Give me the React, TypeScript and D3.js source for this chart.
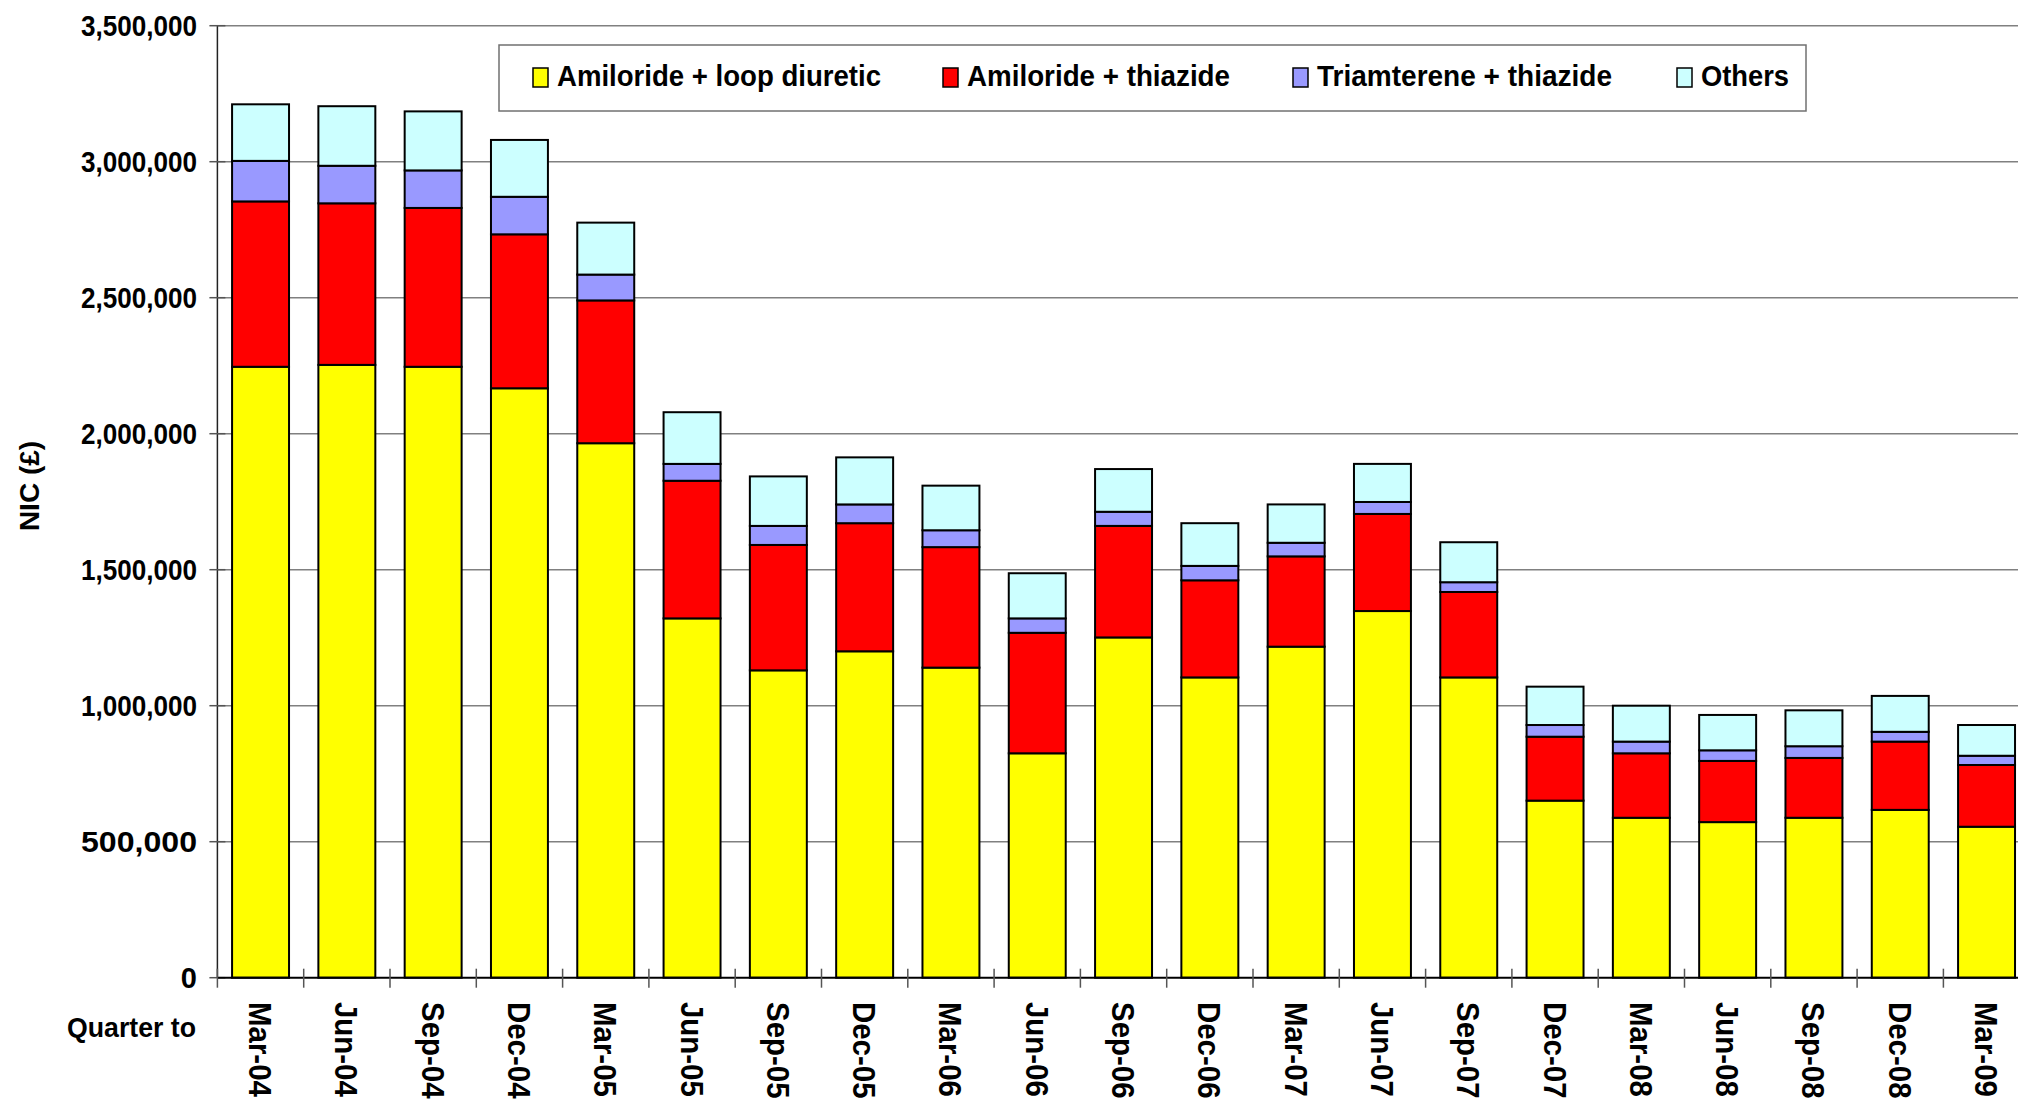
import * as d3 from "d3";

const quarters = [
  "Mar-04", "Jun-04", "Sep-04", "Dec-04", "Mar-05", "Jun-05", "Sep-05",
  "Dec-05", "Mar-06", "Jun-06", "Sep-06", "Dec-06", "Mar-07", "Jun-07",
  "Sep-07", "Dec-07", "Mar-08", "Jun-08", "Sep-08", "Dec-08", "Mar-09",
];

// values in £ thousands
const amilorideLoop = [2246, 2253, 2246, 2167, 1965, 1321, 1130, 1200, 1140, 825, 1251, 1104, 1217, 1348, 1104, 651, 588, 572, 588, 617, 555];
const amilorideThiazide = [608, 594, 584, 566, 525, 506, 461, 471, 443, 443, 410, 357, 332, 357, 314, 235, 237, 225, 220, 251, 227];
const triamtereneThiazide = [149, 138, 138, 138, 95, 62, 70, 69, 62, 53, 52, 53, 50, 44, 36, 43, 43, 39, 43, 36, 34];
const others = [208, 219, 217, 209, 191, 190, 182, 173, 164, 166, 157, 157, 141, 140, 147, 141, 132, 130, 132, 132, 113];

const seriesNames = ["Amiloride + loop diuretic", "Amiloride + thiazide", "Triamterene + thiazide", "Others"];
const seriesColors = ["#FFFF00", "#FF0000", "#9999FF", "#CCFFFF"];
const yTicks = [0, 500000, 1000000, 1500000, 2000000, 2500000, 3000000, 3500000];

const legendX = [533, 943, 1293, 1677];
const legendWidths = [324, 263, 295, 88];

export default function App() {
  const width = 2018;
  const height = 1102;
  const left = 217.4;
  const step = 86.3;
  const top = 25.7;
  const bottom = 977.7;
  const font = "'Liberation Sans', Arial, sans-serif";

  const rows = quarters.map((q, i) => ({
    q,
    s0: amilorideLoop[i] * 1000,
    s1: amilorideThiazide[i] * 1000,
    s2: triamtereneThiazide[i] * 1000,
    s3: others[i] * 1000,
  }));
  const stacked = d3.stack<any>().keys(["s0", "s1", "s2", "s3"])(rows);

  const x = d3
    .scaleBand()
    .domain(quarters)
    .range([left, left + quarters.length * step])
    .paddingInner(0.34)
    .paddingOuter(0.17);
  const y = d3.scaleLinear().domain([0, 3500000]).range([bottom, top]);
  const fmt = d3.format(",");

  return (
    <svg
      width={width}
      height={height}
      style={{ position: "absolute", left: 0, top: 0, background: "#fff" }}
      fontFamily={font}
      fontWeight="bold"
    >
      {/* gridlines */}
      {yTicks.slice(1).map((t) => (
        <line key={t} x1={left} x2={width} y1={y(t)} y2={y(t)} stroke="#808080" strokeWidth={1.5} />
      ))}
      {/* y axis */}
      <line x1={left} x2={left} y1={top} y2={bottom} stroke="#222" strokeWidth={1.5} />
      {yTicks.map((t) => (
        <g key={t}>
          <line x1={left - 8} x2={left + 8} y1={y(t)} y2={y(t)} stroke="#555" strokeWidth={1.5} />
          <text
            x={197}
            y={y(t)}
            dy="0.36em"
            textAnchor="end"
            fontSize={29}
            textLength={t === 0 ? undefined : 116}
            lengthAdjust="spacingAndGlyphs"
          >
            {fmt(t)}
          </text>
        </g>
      ))}
      <text
        transform={`translate(29,486) rotate(-90)`}
        dy="0.36em"
        textAnchor="middle"
        fontSize={28}
      >
        NIC (£)
      </text>

      {/* bars */}
      {stacked.map((layer, si) => (
        <g key={si}>
          {layer.map((d, i) => (
            <rect
              key={i}
              x={x(quarters[i])}
              width={x.bandwidth()}
              y={y(d[1])}
              height={y(d[0]) - y(d[1])}
              fill={seriesColors[si]}
              stroke="#000"
              strokeWidth={2}
            />
          ))}
        </g>
      ))}

      {/* x axis */}
      <line x1={left} x2={width} y1={bottom} y2={bottom} stroke="#000" strokeWidth={2} />
      {d3.range(quarters.length + 1).map((i) => (
        <line
          key={i}
          x1={left + i * step}
          x2={left + i * step}
          y1={bottom - 9}
          y2={bottom + 10}
          stroke="#555"
          strokeWidth={1.5}
        />
      ))}
      {quarters.map((q) => (
        <text
          key={q}
          transform={`translate(${(x(q) ?? 0) + x.bandwidth() / 2},1002) rotate(90) scale(0.92,1)`}
          dy="0.36em"
          fontSize={32}
        >
          {q}
        </text>
      ))}
      <text x={67} y={1037} fontSize={28} textLength={129} lengthAdjust="spacingAndGlyphs">
        Quarter to
      </text>

      {/* legend */}
      <rect x={499} y={45} width={1307} height={66} fill="#fff" stroke="#707070" strokeWidth={1.5} />
      {seriesNames.map((name, i) => (
        <g key={name}>
          <rect x={legendX[i]} y={68} width={15} height={19} fill={seriesColors[i]} stroke="#000" strokeWidth={1.5} />
          <text
            x={legendX[i] + 24}
            y={86}
            fontSize={29}
            textLength={legendWidths[i]}
            lengthAdjust="spacingAndGlyphs"
          >
            {name}
          </text>
        </g>
      ))}
    </svg>
  );
}
